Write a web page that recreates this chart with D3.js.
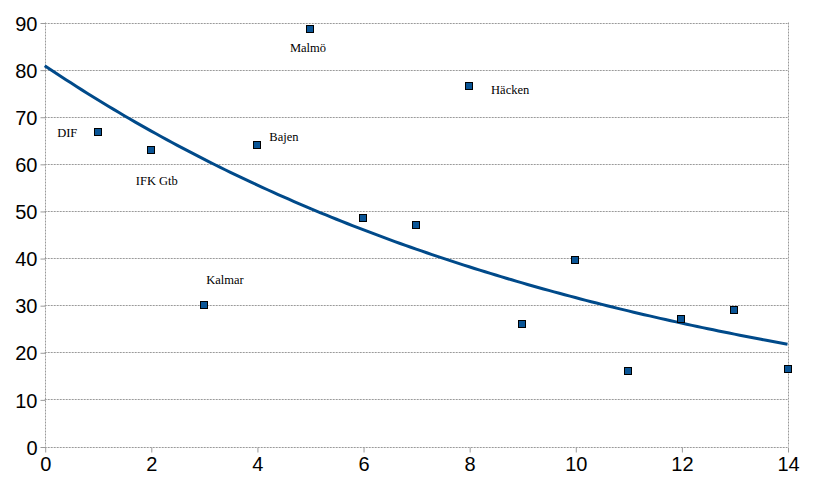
<!DOCTYPE html>
<html><head><meta charset="utf-8">
<script src="https://cdn.jsdelivr.net/npm/d3@7"></script>
<style>body{margin:0;background:#fff}</style>
</head><body>
<svg id="c" width="816" height="488"></svg>
<script>
const xValues = [1,2,3,4,5,6,7,8,9,10,11,12,13,14];
const yValues = [66.7,63,30,64,88.6,48.5,47,76.5,26,39.6,16,27.1,29,16.5];
const labelNames = ["DIF","IFK Gtb","Kalmar","Bajen","Malmö","","","Häcken","","","","","",""];
const xTicks = [0,2,4,6,8,10,12,14];
const yTicks = [0,10,20,30,40,50,60,70,80,90];

const svg = d3.select("#c");
const x = d3.scaleLinear().domain([0,14]).range([44.7,787.5]);
const y = d3.scaleLinear().domain([0,90]).range([446.5,22.5]);
const grid = "#9a9a9a";

// horizontal gridlines
svg.append("g").selectAll("line").data(yTicks).join("line")
  .attr("x1",x(0)).attr("x2",x(14)).attr("y1",d=>Math.round(y(d))+0.5).attr("y2",d=>Math.round(y(d))+0.5)
  .attr("stroke",grid).attr("stroke-dasharray","2,1");
// left axis & right border
[0,14].forEach(v=>{
  svg.append("line").attr("x1",Math.round(x(v))+0.5).attr("x2",Math.round(x(v))+0.5)
    .attr("y1",y(90)).attr("y2",y(0)).attr("stroke",grid).attr("stroke-dasharray","2,1");
});

// axes (ticks and labels)
const yAxis = d3.axisLeft(y).tickValues(yTicks).tickSize(5).tickPadding(3);
const gy = svg.append("g").attr("transform",`translate(${Math.round(x(0))+0.5},0.5)`).call(yAxis);
gy.select(".domain").remove();
gy.selectAll(".tick line").attr("stroke",grid);
gy.selectAll(".tick text").attr("font-family","Liberation Sans, Arial, sans-serif").attr("font-size",20).attr("fill","#000").attr("dy","0.36em");

const xAxis = d3.axisBottom(x).tickValues(xTicks).tickSize(5).tickPadding(4);
const gx = svg.append("g").attr("transform",`translate(0.5,${Math.round(y(0))+0.5})`).call(xAxis);
gx.select(".domain").remove();
gx.selectAll(".tick line").attr("stroke",grid);
gx.selectAll(".tick text").attr("font-family","Liberation Sans, Arial, sans-serif").attr("font-size",20).attr("fill","#000");

// exponential regression trendline
const lnY = yValues.map(Math.log);
const mx = d3.mean(xValues), my = d3.mean(lnY);
const b = d3.sum(xValues.map((xv,i)=>(xv-mx)*(lnY[i]-my))) / d3.sum(xValues.map(xv=>(xv-mx)**2));
const a = Math.exp(my - b*mx);
const trend = d3.range(0,14.001,0.1).map(t=>[t,a*Math.exp(b*t)]);
svg.append("path").datum(trend)
  .attr("d",d3.line().x(d=>x(d[0])).y(d=>y(d[1])))
  .attr("fill","none").attr("stroke","#004a8a").attr("stroke-width",3);

// markers
svg.append("g").selectAll("rect").data(xValues).join("rect")
  .attr("x",(d,i)=>Math.round(x(d))-3.5).attr("y",(d,i)=>Math.round(y(yValues[i]))-3.5)
  .attr("width",7).attr("height",7)
  .attr("fill","#0a5596").attr("stroke","#000").attr("stroke-width",1);

// labels
const offsets = {0:[-30.5,5],1:[6,35],2:[21,-21],3:[27,-4],4:[-2,23],7:[41,8]};
svg.append("g").selectAll("text").data(xValues.map((d,i)=>i).filter(i=>labelNames[i]))
  .join("text")
  .attr("x",i=>x(xValues[i])+offsets[i][0])
  .attr("y",i=>y(yValues[i])+offsets[i][1])
  .attr("text-anchor","middle")
  .attr("font-family","Liberation Serif, Times New Roman, serif")
  .attr("font-size",12.5).attr("fill","#000")
  .text(i=>labelNames[i]);
</script>
</body></html>
